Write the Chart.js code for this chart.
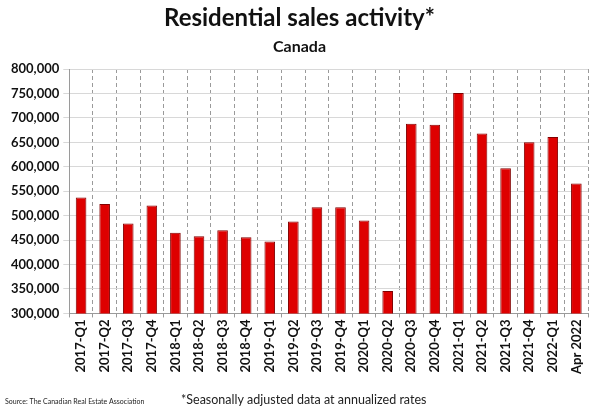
<!DOCTYPE html>
<html>
<head>
<meta charset="utf-8">
<script src="https://cdn.jsdelivr.net/npm/chart.js@4"></script>
<style>
  html, body { margin: 0; padding: 0; background: #fff; }
  #wrap { position: relative; width: 594px; height: 410px; }
</style>
</head>
<body>
<div id="wrap"><canvas id="sales-chart" width="594" height="410"></canvas></div>
<script>
const quarters = ['2017-Q1', '2017-Q2', '2017-Q3', '2017-Q4', '2018-Q1', '2018-Q2', '2018-Q3', '2018-Q4',
    '2019-Q1', '2019-Q2', '2019-Q3', '2019-Q4', '2020-Q1', '2020-Q2', '2020-Q3', '2020-Q4',
    '2021-Q1', '2021-Q2', '2021-Q3', '2021-Q4', '2022-Q1', 'Apr 2022'];
const salesSA = [537000, 524000, 484000, 521000, 465000, 458000, 470000, 456000,
    447000, 488000, 517000, 517000, 490000, 346000, 688000, 686000,
    751000, 668000, 597000, 650000, 661000, 566000];
const yMin = 300000;
const yMax = 800000;
const yStep = 50000;

const FONT = 'Lato, "Open Sans", sans-serif';

// footnotes under the axis
const footnotes = {
    id: 'footnotes',
    afterDraw(chart) {
        const c = chart.ctx;
        c.save();
        c.fillStyle = '#222';
        c.textBaseline = 'middle';
        c.font = `7px ${FONT}`;
        c.fillText('Source: The Canadian Real Estate Association', 5, 402);
        c.font = `12.5px ${FONT}`;
        c.fillText('*Seasonally adjusted data at annualized rates', 181, 400);
        c.restore();
    }
};

const ctx = document.getElementById('sales-chart').getContext('2d');
new Chart(ctx, {
    type: 'bar',
    data: {
        labels: quarters,
        datasets: [{
            data: salesSA,
            backgroundColor: 'rgb(222, 0, 0)',
            borderColor: 'rgb(130, 0, 0)',
            borderWidth: 1,
            categoryPercentage: 1,
            barPercentage: 0.45
        }]
    },
    options: {
        responsive: false,
        animation: false,
        layout: { padding: { left: 7, right: 2, top: 0, bottom: 34 } },
        plugins: {
            legend: { display: false },
            tooltip: { enabled: false },
            title: {
                display: true,
                text: 'Residential sales activity*',
                color: '#111',
                font: { family: FONT, size: 24, weight: 'bold' },
                padding: { top: 4, bottom: 2 }
            },
            subtitle: {
                display: true,
                text: 'Canada',
                color: '#111',
                font: { family: FONT, size: 16, weight: 'bold' },
                padding: { top: 2, bottom: 13 }
            }
        },
        scales: {
            x: {
                grid: { display: true, offset: true, color: '#9a9a9a', lineWidth: 1, tickLength: 4 },
                border: { display: true, color: '#9a9a9a', dash: [4, 3] },
                ticks: {
                    color: '#111',
                    font: { family: FONT, size: 13, weight: 'bold' },
                    minRotation: 90, maxRotation: 90,
                    autoSkip: false, padding: 2
                }
            },
            y: {
                min: yMin,
                max: yMax,
                grid: { color: '#d8d8d8', tickLength: 6 },
                border: { color: '#9a9a9a' },
                ticks: {
                    stepSize: yStep,
                    color: '#111',
                    font: { family: FONT, size: 13, weight: 'bold' },
                    padding: 4,
                    callback: v => v.toLocaleString('en-US')
                }
            }
        }
    },
    plugins: [footnotes]
});
</script>
</body>
</html>
